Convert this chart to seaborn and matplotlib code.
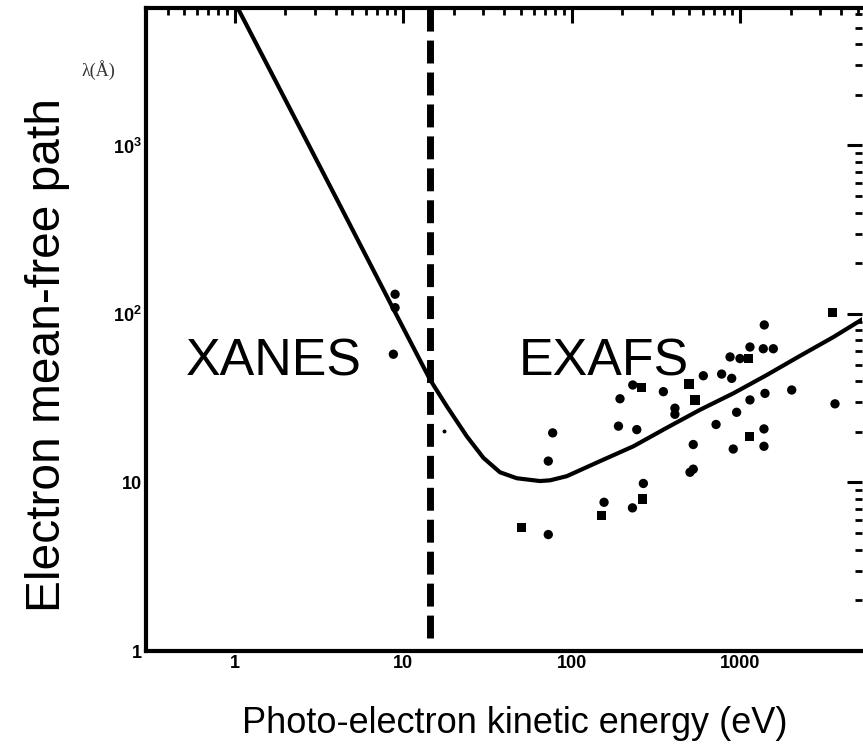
import numpy as np
import pandas as pd
import matplotlib
matplotlib.use("Agg")
import matplotlib.pyplot as plt
import seaborn as sns
from matplotlib.ticker import LogLocator, NullFormatter

# ---------------- data ----------------
curve_energy = [1.0, 2.13, 4.23, 8.37, 14.5, 18.2, 23.9, 30.0, 37.6, 47.3, 65.0,
                74.5, 93.7, 148, 233, 367, 579, 912, 1440, 2270, 3580, 5370]
curve_lambda = [7110, 1656, 440, 117, 40.6, 28.3, 18.8, 14.0, 11.5, 10.6, 10.2,
                10.3, 10.9, 13.4, 16.4, 21.1, 27.0, 33.8, 43.4, 56.4, 72.9, 93.5]

circle_energy = [1394, 1146, 1375, 1577, 873, 1000, 606, 778, 893, 231, 351, 194,
                 411, 411, 1407, 2028, 1146, 955, 3664, 190, 244, 721, 77.3, 528,
                 1388, 1388, 912, 72.8, 528, 505, 267, 156, 230, 72.8,
                 8.97, 8.97, 8.76]
circle_lambda = [86.1, 63.7, 62.2, 62.2, 55.6, 54.4, 43.0, 44.0, 41.5, 37.9, 34.6, 31.4,
                 27.6, 25.4, 33.8, 35.4, 30.9, 26.1, 29.3, 21.6, 20.6, 22.1, 19.7, 16.8,
                 20.8, 16.4, 15.8, 13.4, 12.0, 11.5, 9.87, 7.63, 7.07, 4.91,
                 131, 109, 57.7]

square_energy = [3532, 1120, 261, 498, 541, 1135, 263, 151, 50.6]
square_lambda = [102, 54.4, 36.7, 38.4, 30.9, 18.8, 7.99, 6.37, 5.39]

faint_energy = [17.6]
faint_lambda = [20.3]

xanes_exafs_boundary = 14.5

x_tick_values = [1, 10, 100, 1000]
x_tick_labels = ["1", "10", "100", "1000"]
y_tick_values = [1, 10, 100, 1000]
y_tick_labels = ["1", "10", r"$\mathbf{10^{2}}$", r"$\mathbf{10^{3}}$"]
x_range = (0.298, 5300)
y_range = (1.0, 6546)

# ---------------- styling ----------------
sns.set_theme(style="white")
plt.rcParams["font.family"] = ["Liberation Sans", "DejaVu Sans"]
plt.rcParams["mathtext.fontset"] = "custom"
plt.rcParams["mathtext.rm"] = "Liberation Sans"
plt.rcParams["mathtext.bf"] = "Liberation Sans:bold"

W, H = 863, 751
fig = plt.figure(figsize=(W / 100, H / 100), dpi=100)
ax = fig.add_axes([146 / W, 100 / H, 716 / W, 643 / H])
ax.set_xscale("log")
ax.set_yscale("log")

points = pd.DataFrame({
    "energy": circle_energy + square_energy,
    "mfp": circle_lambda + square_lambda,
    "shape": ["circle"] * len(circle_energy) + ["square"] * len(square_energy),
})

sns.lineplot(x=curve_energy, y=curve_lambda, sort=False, estimator=None,
             color="black", linewidth=3, ax=ax, zorder=4)
sns.scatterplot(data=points, x="energy", y="mfp", style="shape",
                markers={"circle": "o", "square": "s"}, color="black",
                s=45, linewidth=0, legend=False, ax=ax, zorder=3)
sns.scatterplot(x=faint_energy, y=faint_lambda, color="black", s=8,
                linewidth=0, legend=False, ax=ax, zorder=3)

ax.axvline(xanes_exafs_boundary, ymin=0.02, ymax=1.0, color="black",
           linewidth=5, dashes=(3.3, 1.3), zorder=5)

ax.set_xlim(*x_range)
ax.set_ylim(*y_range)

ax.set_xticks(x_tick_values, labels=x_tick_labels, fontweight="bold")
ax.set_yticks(y_tick_values, labels=y_tick_labels, fontweight="bold")
ax.xaxis.set_minor_locator(LogLocator(base=10, subs=np.arange(2, 10)))
ax.yaxis.set_minor_locator(LogLocator(base=10, subs=np.arange(2, 10)))
ax.xaxis.set_minor_formatter(NullFormatter())
ax.yaxis.set_minor_formatter(NullFormatter())

ax.tick_params(which="both", direction="in", top=True, right=True,
               colors="black")
ax.tick_params(which="major", length=11, width=2.2, labelsize=13, pad=3)
ax.tick_params(which="minor", length=5, width=2)

for side in ["left", "bottom", "top"]:
    ax.spines[side].set_linewidth(3)
    ax.spines[side].set_color("black")
ax.spines["right"].set_visible(False)

ax.set_xlabel("Photo-electron kinetic energy (eV)", fontsize=26, color="black")
ax.xaxis.label.set_va("baseline")
ax.xaxis.set_label_coords(0.515, (651 - 733) / 643)

ax.set_ylabel("Electron mean-free path", fontsize=34.5, color="black")
ax.yaxis.set_label_coords((70 - 146) / 716, (651 - 355) / 643)

ax.text((98 - 146) / 716, (651 - 70) / 643, "λ(Å)", transform=ax.transAxes,
        ha="center", va="center", fontsize=13, color="#333333",
        family=["Liberation Serif", "DejaVu Serif"], clip_on=False)

ax.text((186 - 146) / 716, (651 - 375) / 643, "XANES", transform=ax.transAxes,
        ha="left", va="baseline", fontsize=37.4, color="black")
ax.text((519 - 146) / 716, (651 - 375) / 643, "EXAFS", transform=ax.transAxes,
        ha="left", va="baseline", fontsize=37.4, color="black")

fig.savefig("out.png", dpi=100)
